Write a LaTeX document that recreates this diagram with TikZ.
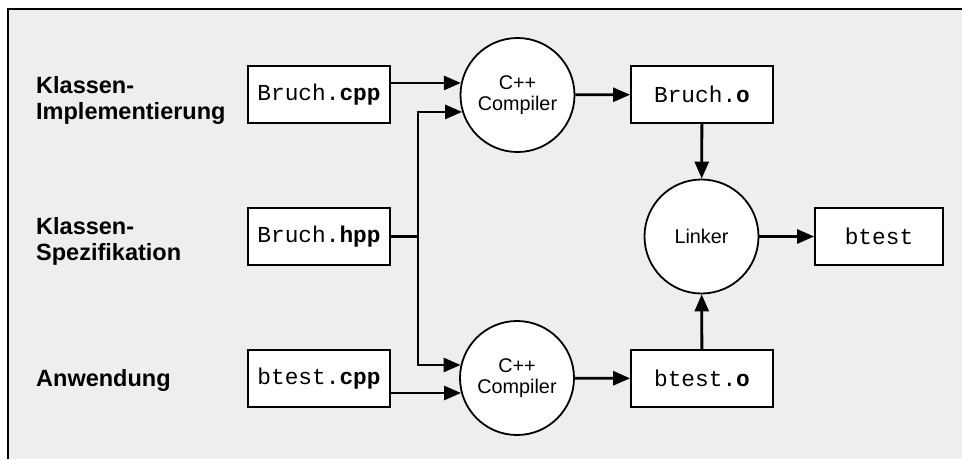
\documentclass[tikz,border=0pt]{standalone}
\usepackage{fontspec}
\setmainfont{Liberation Sans}
\newfontfamily\monof{Liberation Mono}
\usetikzlibrary{arrows.meta,calc}
\definecolor{bgray}{HTML}{EEEEEE}
\begin{document}
\begin{tikzpicture}[x=1pt,y=-1pt,
  filebox/.style={draw=black,fill=white,line width=1.8pt,minimum width=142pt,minimum height=57pt,inner sep=0pt,font=\monof\fontsize{22.8}{24}\selectfont},
  proc/.style={draw=black,fill=white,line width=1.8pt,circle,minimum size=114pt,inner sep=0pt,align=center,font=\fontsize{19.8}{21.5}\selectfont},
  lab/.style={anchor=west,align=left,inner sep=0pt,font=\fontsize{23.5}{26}\selectfont\bfseries},
  flow/.style={line width=2.8pt,-{Triangle[length=17pt,width=14pt]}},
  wire/.style={line width=2.8pt}]
\useasboundingbox (0,0) rectangle (962,459);
\fill[white] (0,0) rectangle (962,459);
\fill[bgray] (8,9) rectangle (962,459);
\draw[line width=2pt] (8,459) -- (8,9) -- (962,9);

\node[lab] (l1) at (36,100) {Klassen-\\Implementierung};
\node[lab] (l2) at (36,241) {Klassen-\\Spezifikation};
\node[lab] (l3) at (36,380) {Anwendung};

\node[filebox] (cpp) at (319,94.5) {Bruch.\textbf{cpp}};
\node[filebox] (hpp) at (319,236.5) {Bruch.\textbf{hpp}};
\node[filebox] (tcpp) at (319,378.5) {btest.\textbf{cpp}};

\node[proc] (c1) at (517.5,95) {C++\\Compiler};
\node[proc] (c2) at (517,378) {C++\\Compiler};

\node[filebox] (bo) at (702,94.5) {Bruch.\textbf{o}};
\node[filebox] (to) at (702,378.5) {btest.\textbf{o}};

\node[proc] (lk) at (701.5,236.5) {Linker};
\node[filebox,minimum width=128pt] (bt) at (879,236.5) {btest};

\coordinate (j) at (418,236.5);

\draw[flow] (c1.168 -| cpp.east) -- (c1.168);
\draw[wire] (hpp.east) -- (j);
\draw[flow] (j) |- (c1.197);
\draw[flow] (j) |- (c2.167);
\draw[flow] (c2.195 -| tcpp.east) -- (c2.195);
\draw[flow] (c1) -- (bo);
\draw[flow] (c2) -- (to);
\draw[flow] (bo) -- (lk);
\draw[flow] (to) -- (lk);
\draw[flow] (lk) -- (bt);
\end{tikzpicture}
\end{document}
